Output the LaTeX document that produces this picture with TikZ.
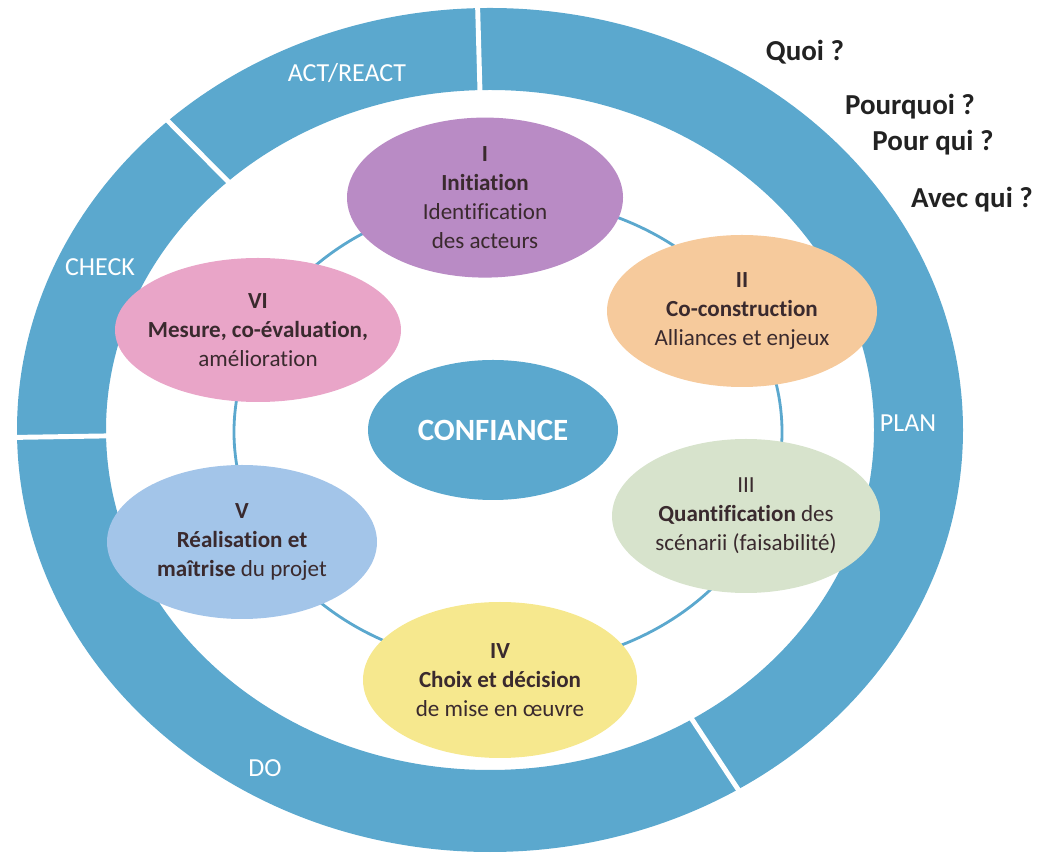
\documentclass[tikz,border=0pt]{standalone}
\usepackage{fontspec}
\setmainfont{Carlito}[Ligatures=NoCommon]
\usepackage{tikz}
\usetikzlibrary{shapes.geometric,calc}
\definecolor{ringblue}{HTML}{5BA8CE}
\definecolor{stagei}{HTML}{B98BC5}
\definecolor{stageii}{HTML}{F6CA9C}
\definecolor{stageiii}{HTML}{D7E3CC}
\definecolor{stageiv}{HTML}{F6E88E}
\definecolor{stagev}{HTML}{A3C5E9}
\definecolor{stagevi}{HTML}{E9A5C8}
\definecolor{txtdark}{HTML}{3A2A2E}
\definecolor{qdark}{HTML}{222222}

\begin{document}
\begin{tikzpicture}[
    stage/.style={ellipse, inner sep=-15pt, align=center, text=txtdark, font=\fontsize{16.4}{20.6}\selectfont},
    core/.style={ellipse, fill=ringblue, inner sep=0pt, text=white, font=\fontsize{22}{26}\selectfont\bfseries},
    ringlabel/.style={text=white, font=\fontsize{18.5}{22}\selectfont},
    question/.style={text=qdark, font=\fontsize{20.6}{24}\selectfont\bfseries},
    divider/.style={white, line width=3.5pt},
    link/.style={ringblue, line width=2pt}
]
    \useasboundingbox (0,0) rectangle (26.525,21.3);

    % Outer ring
    \coordinate (rc) at (12.25,10.55);
    \fill[ringblue, even odd rule] (rc) ellipse [x radius=11.825, y radius=10.55]
                                   (rc) ellipse [x radius=9.6, y radius=8.5];
    \foreach \a in {91.5,133,181,-58.3}
        \draw[divider] ($(rc)+(\a:9.5 and 8.4)$) -- ($(rc)+(\a:11.95 and 10.7)$);

    % Ring labels
    \node[ringlabel] (act) at (8.675,19.475) {ACT/REACT};
    \node[ringlabel] (check) at (2.5,14.625) {CHECK};
    \node[ringlabel] (plan) at (22.7,10.725) {PLAN};
    \node[ringlabel] (do) at (6.625,2.1) {DO};

    % Questions
    \node[question] (quoi) at (20.125,19.99) {Quoi ?};
    \node[question] (pourquoi) at (22.75,18.625) {Pourquoi ?};
    \node[question] (pourqui) at (23.325,17.725) {Pour qui ?};
    \node[question] (avecqui) at (24.3,16.3) {Avec qui ?};

    % Link ring through the stages
    \coordinate (lc) at (12.7,10.5);
    \draw[link] (lc) ellipse [x radius=6.85, y radius=5.85];

    % Stages
    \node[stage, fill=stagei, minimum width=6.9cm, minimum height=4cm] (s1) at (12.125,16.36)
        {\textbf{I}\\\textbf{Initiation}\\Identification\\des acteurs};
    \node[stage, fill=stageii, minimum width=6.75cm, minimum height=3.8cm] (s2) at (18.55,13.525)
        {\textbf{II}\\\textbf{Co-construction}\\Alliances et enjeux};
    \node[stage, fill=stageiii, minimum width=6.7cm, minimum height=3.85cm] (s3) at (18.65,8.4)
        {III\\\textbf{Quantification} des\\scénarii (faisabilité)};
    \node[stage, fill=stageiv, minimum width=6.85cm, minimum height=3.9cm] (s4) at (12.5,4.3)
        {\textbf{IV}\\\textbf{Choix et décision}\\de mise en œuvre};
    \node[stage, fill=stagev, minimum width=6.75cm, minimum height=3.85cm] (s5) at (6.05,7.75)
        {\textbf{V}\\\textbf{Réalisation et}\\\textbf{maîtrise} du projet};
    \node[stage, fill=stagevi, minimum width=7.15cm, minimum height=3.6cm] (s6) at (6.45,13.05)
        {\textbf{VI}\\\textbf{Mesure, co-évaluation,}\\amélioration};

    % Centre
    \node[core, minimum width=6.25cm, minimum height=3.5cm] (conf) at (12.325,10.55) {CONFIANCE};

\end{tikzpicture}
\end{document}
